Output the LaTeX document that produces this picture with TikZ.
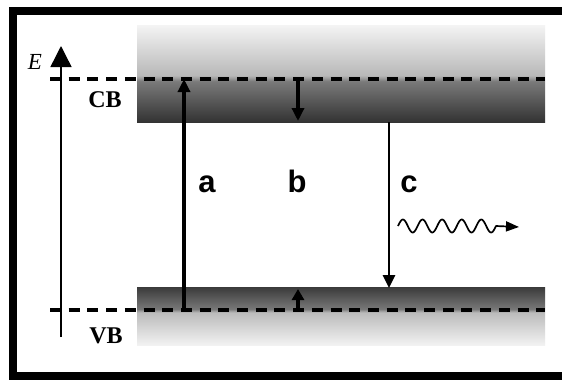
\documentclass[tikz,border=0pt]{standalone}
\usepackage{fontspec}
\setmainfont{Liberation Serif}
\setsansfont{Liberation Sans}
\usetikzlibrary{arrows.meta}
\definecolor{cbbot}{HTML}{333333}
\definecolor{cbmidA}{HTML}{7A7A7A}
\definecolor{cbmidB}{HTML}{B8B8B8}
\definecolor{cbtop}{HTML}{F4F4F4}
\definecolor{vbtop}{HTML}{3A3A3A}
\definecolor{vbmidA}{HTML}{787878}
\definecolor{vbmidB}{HTML}{BBBBBB}
\definecolor{vbbot}{HTML}{F2F2F2}
\pgfdeclareverticalshading{cbshade}{100bp}{color(0bp)=(cbbot); color(25bp)=(cbbot); color(46bp)=(cbmidA); color(49bp)=(cbmidB); color(75bp)=(cbtop); color(100bp)=(cbtop)}
\pgfdeclareverticalshading{vbshade}{100bp}{color(0bp)=(vbbot); color(25bp)=(vbbot); color(53bp)=(vbmidB); color(56bp)=(vbmidA); color(75bp)=(vbtop); color(100bp)=(vbtop)}
\tikzset{
  level/.style={line width=3.3pt, dash pattern=on 11pt off 7.7pt},
  trans/.style={line width=3.2pt, -{Triangle[length=13pt,width=12pt]}},
  axis/.style={line width=1.4pt, -{Triangle[length=21pt,width=21pt]}},
  bandlbl/.style={font=\bfseries\fontsize{24}{24}\selectfont, anchor=base},
  letter/.style={font=\sffamily\bfseries\fontsize{31}{31}\selectfont, anchor=base},
}
\begin{document}
\begin{tikzpicture}[x=1pt,y=-1pt]
\useasboundingbox (0,0) rectangle (562,381);
\clip (0,0) rectangle (562,381);
\fill[white] (0,0) rectangle (562,381);
\draw[line width=7.5pt] (13,11) rectangle (600,376);
% bands
\path[shading=cbshade] (137,25) rectangle (545,122);
\path[shading=vbshade] (137,287) rectangle (545,345);
% named points
\coordinate (axB) at (61,337);
\coordinate (axT) at (61,46);
\coordinate (cbL) at (50,79);
\coordinate (cbR) at (545,79);
\coordinate (vbL) at (50,310);
\coordinate (vbR) at (545,310);
\coordinate (aS) at (184,311.5);
\coordinate (aE) at (184,79);
\coordinate (bT1) at (298,77.5);
\coordinate (bT2) at (298,121);
\coordinate (bB1) at (298,311.5);
\coordinate (bB2) at (298,289);
\coordinate (cS) at (389,122);
\coordinate (cE) at (389,288);
\coordinate (wS) at (398,226);
\coordinate (wM) at (496,226);
\coordinate (wE) at (519,227);
% levels
\draw[level] (cbL) -- (cbR);
\draw[level] (vbL) -- (vbR);
% axis
\draw[axis] (axB) -- (axT);
% transitions
\draw[trans, line width=3.4pt] (aS) -- (aE);
\draw[trans, line width=4pt] (bT1) -- (bT2);
\draw[trans, line width=4pt, -{Triangle[length=11pt,width=12pt]}] (bB1) -- (bB2);
\draw[trans, line width=2.6pt] (cS) -- (cE);
\draw[line width=1.7pt, line join=round, -{Triangle[length=13pt,width=10pt]}]
  (wS) -- plot[domain=0:98, samples=120, smooth] ({398+\x},{226-6.5*sin(\x*18.3673)}) -- (wM) -- (wE);
% labels
\node[font=\itshape\fontsize{23}{23}\selectfont, anchor=base] (E) at (35,69) {E};
\node[bandlbl] (CB) at (105,107) {CB};
\node[bandlbl] (VB) at (106,343) {VB};
\node[letter] (la) at (207,192) {a};
\node[letter] (lb) at (297,192) {b};
\node[letter] (lc) at (409,192) {c};
\end{tikzpicture}
\end{document}
